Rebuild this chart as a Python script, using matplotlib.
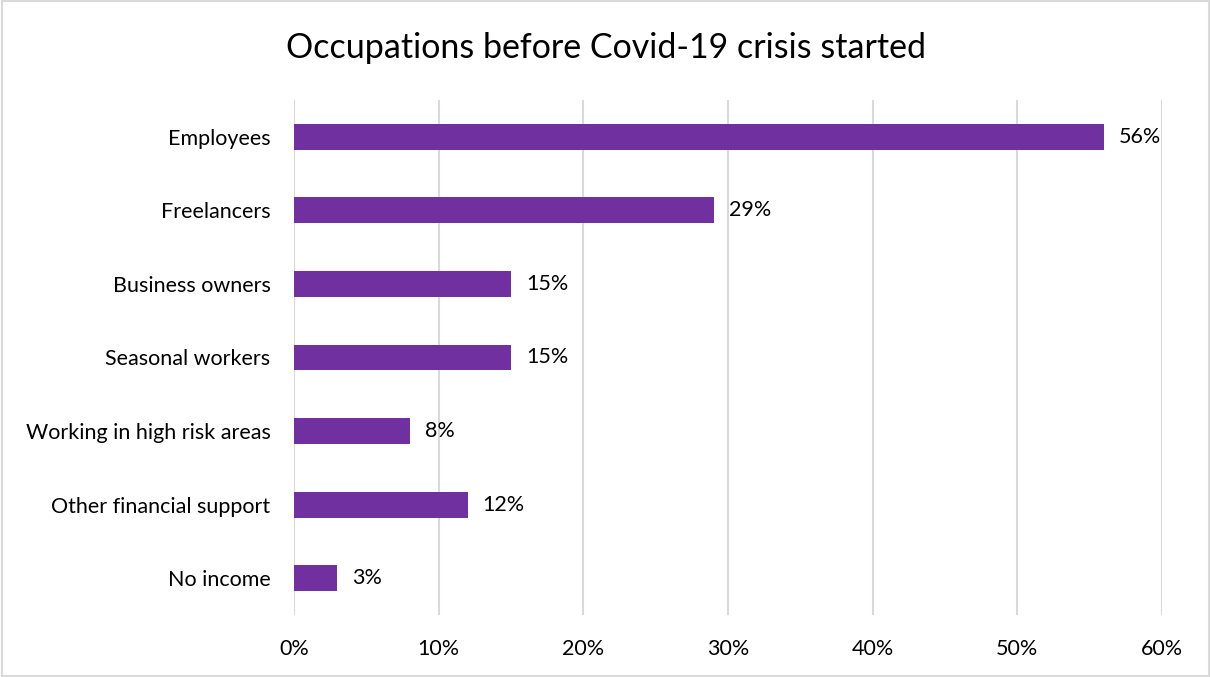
import matplotlib.pyplot as plt
from matplotlib.patches import Rectangle
from matplotlib.ticker import FuncFormatter

categories = ['Employees', 'Freelancers', 'Business owners', 'Seasonal workers',
              'Working in high risk areas', 'Other financial support', 'No income']
values = [56, 29, 15, 15, 8, 12, 3]
xticks = [0, 10, 20, 30, 40, 50, 60]

plt.rcParams['font.family'] = ['Lato', 'DejaVu Sans']

fig = plt.figure(figsize=(12.11, 6.77), dpi=100)
ax = fig.add_axes([0.2428, 0.0916, 0.7167, 0.7607])

pos = list(range(len(categories)))
ax.barh(pos, values, height=0.35, color='#7030A0', zorder=3)
for p, v in zip(pos, values):
    ax.annotate(f'{v}%', (v, p), xytext=(15, 0), textcoords='offset pixels',
                va='center', ha='left', fontsize=15.5, color='#000000')

ax.set_ylim(len(categories) - 0.5, -0.5)
ax.set_xlim(0, 60)
ax.set_yticks(pos)
ax.set_yticklabels(categories, fontsize=15.5)
ax.set_xticks(xticks)
ax.xaxis.set_major_formatter(FuncFormatter(lambda x, _: f'{x:.0f}%'))
ax.tick_params(axis='x', labelsize=15.5, length=0, pad=17)
ax.tick_params(axis='y', length=0, pad=17)
ax.grid(axis='x', color='#D9D9D9', linewidth=1.5, zorder=0)
for s in ax.spines.values():
    s.set_visible(False)

fig.suptitle('Occupations before Covid-19 crisis started', fontsize=24.5, y=0.952)
fig.patches.append(Rectangle((0.002, 0.002), 0.996, 0.996, transform=fig.transFigure,
                             fill=False, edgecolor='#D9D9D9', linewidth=1.5))

fig.savefig('out.png', dpi=100)
